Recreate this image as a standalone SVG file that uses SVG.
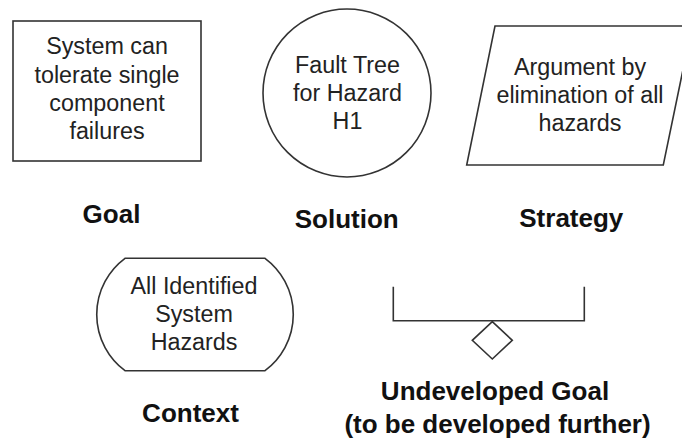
<svg xmlns="http://www.w3.org/2000/svg" width="682" height="443" viewBox="0 0 682 443">
<style>
.shape{fill:#fff;stroke:#333;stroke-width:1.6}
.t{font-family:"Liberation Sans",Arial,sans-serif;font-size:23.3px;fill:#222;text-anchor:middle}
.lbl{font-family:"Liberation Sans",Arial,sans-serif;font-size:26px;font-weight:bold;fill:#111;text-anchor:middle}
</style>
<rect width="682" height="443" fill="#fff"/>
<g id="goal">
<rect class="shape" x="13" y="21" width="188" height="140"/>
<text class="t" x="107" y="54">System can</text>
<text class="t" x="107" y="82.5">tolerate single</text>
<text class="t" x="107" y="111">component</text>
<text class="t" x="107" y="139">failures</text>
<text class="lbl" x="111.5" y="223">Goal</text>
</g>
<g id="solution">
<circle class="shape" cx="347" cy="93" r="84"/>
<text class="t" x="347.5" y="72.5">Fault Tree</text>
<text class="t" x="347.5" y="100.5">for Hazard</text>
<text class="t" x="347.5" y="128.5">H1</text>
<text class="lbl" x="346.7" y="227.5">Solution</text>
</g>
<g id="strategy">
<polygon class="shape" points="495,26 692,26 663.3,165 466.7,165"/>
<text class="t" x="580" y="75">Argument by</text>
<text class="t" x="580" y="102.7">elimination of all</text>
<text class="t" x="580" y="130.5">hazards</text>
<text class="lbl" x="571.3" y="227">Strategy</text>
</g>
<g id="context">
<path class="shape" d="M125,258.3 L265,258.3 A70,70 0 0 1 265,370.7 L125,370.7 A70,70 0 0 1 125,258.3 Z"/>
<text class="t" x="194" y="293.5">All Identified</text>
<text class="t" x="194" y="321.7">System</text>
<text class="t" x="194" y="349.5">Hazards</text>
<text class="lbl" x="190.5" y="422.3">Context</text>
</g>
<g id="undeveloped">
<polyline fill="none" stroke="#333" stroke-width="1.6" points="393.3,286.7 393.3,320.7 584.3,320.7 584.3,286.7"/>
<polygon class="shape" points="492.3,321.7 512.3,340.3 492.3,359 472.3,340.3"/>
<text class="lbl" x="495" y="400">Undeveloped Goal</text>
<text class="lbl" x="497.5" y="432.5">(to be developed further)</text>
</g>
<g id="connectors"></g>
</svg>
